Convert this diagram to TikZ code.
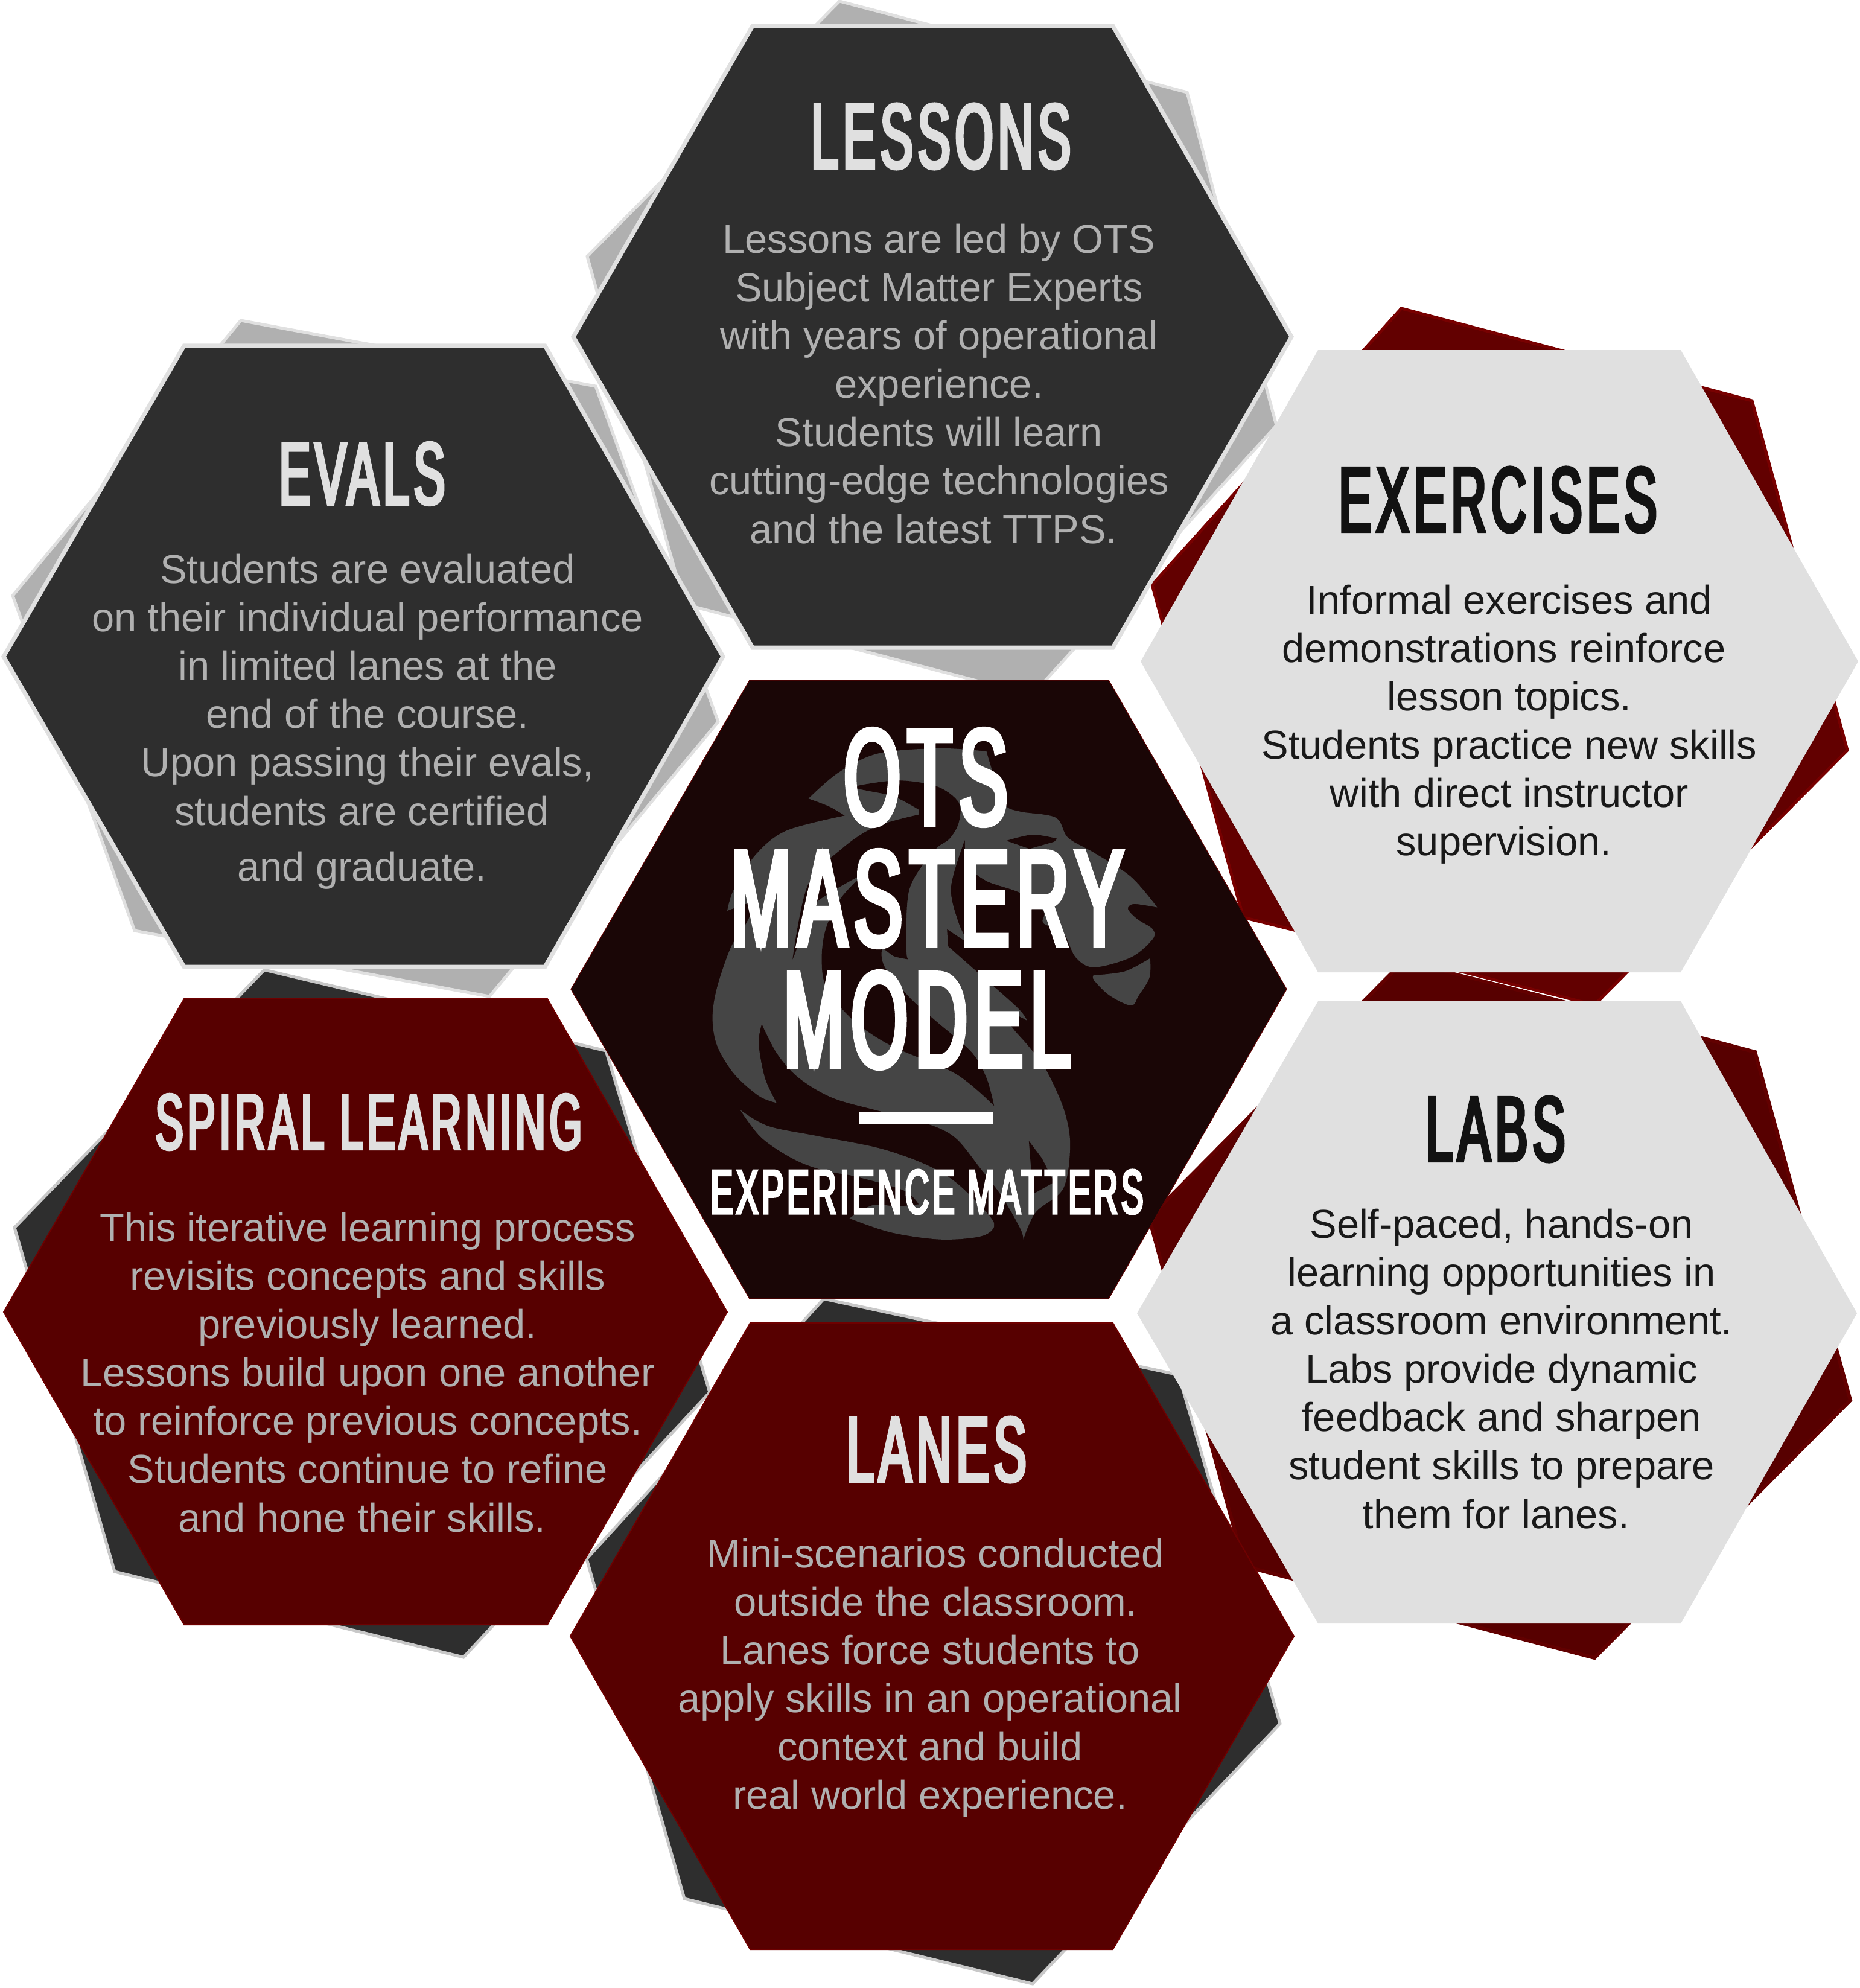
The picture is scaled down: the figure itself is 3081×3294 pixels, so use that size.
\documentclass[tikz,border=0pt]{standalone}
\usepackage{fontspec}
\setmainfont{Liberation Sans}
\newfontfamily\headfont[FakeStretch=0.535,FakeBold=3.5,LetterSpace=5]{Liberation Sans}
\usetikzlibrary{positioning}
\definecolor{colDark}{HTML}{2E2E2E}
\definecolor{colLight}{HTML}{E0E0E0}
\definecolor{colRed}{HTML}{570000}
\definecolor{colCore}{HTML}{1A0606}
\definecolor{colGray}{HTML}{B0B0B0}
\definecolor{colBack}{HTML}{620000}
\definecolor{colEdge}{HTML}{780000}
\definecolor{colLogo}{HTML}{454545}
\newcommand{\tailSp}{\mbox{\kern5.3pt}}
\tikzstyle{styDark}=[fill=colDark,draw=colLight,line width=0.07cm]
\tikzstyle{styLight}=[fill=colLight]
\tikzstyle{styRed}=[fill=colRed,draw=colEdge!70!colRed,line width=0.02cm]
\tikzstyle{styCore}=[fill=colCore,draw=colEdge!70!colCore,line width=0.012cm]
\tikzstyle{styBackGray}=[fill=colGray,draw=colLight,line width=0.05cm]
\tikzstyle{styBackDark}=[fill=colDark,draw=colGray!70!white,line width=0.05cm]
\tikzstyle{styBackRed}=[fill=colBack,draw=colEdge,line width=0.05cm]
\tikzstyle{styBackLow}=[fill=colRed,draw=colBack,line width=0.06cm]
\tikzstyle{styText}=[inner sep=0,align=center,font=\fontsize{19}{22.76}\selectfont]
\tikzstyle{styGrayText}=[styText,text=colGray]
\tikzstyle{styBlackText}=[styText,text=black!90]
\tikzstyle{styHead}=[inner sep=0,font=\headfont\fontsize{43.3}{50}\selectfont]
\tikzstyle{styCoreHead}=[styHead,text=white,font=\headfont\fontsize{64.4}{72}\selectfont]
\begin{document}
\begin{tikzpicture}[x=0.01cm,y=-0.01cm]
\useasboundingbox (0,0) rectangle (3081,3294);

% back hexagons
\draw[styBackLow] (2327,1591) -- (2908,1743) -- (3066,2320) -- (2642,2747) -- (2062,2595) -- (1904,2018) -- cycle;
\draw[styBackRed] (2322,511) -- (2903,664) -- (3061,1243) -- (2642,1665) -- (2060,1520) -- (1909,969) -- cycle;
\draw[white,line width=0.012cm] (2411,1610.5) -- (2592,1655.5);
\draw[styBackDark] (1365,2152) -- (1953,2278) -- (2121,2856) -- (1711,3287) -- (1134,3146) -- (972,2583) -- cycle;
\draw[styBackDark] (438,1607) -- (1004,1741) -- (1176,2307) -- (768,2746) -- (190,2604) -- (24,2034) -- cycle;
\draw[styBackGray] (1391,2) -- (1967,153) -- (2115,705) -- (1710,1152) -- (1134,1001) -- (973,425) -- cycle;
\draw[styBackGray] (399,531) -- (987,640) -- (1190,1196) -- (811,1651) -- (223,1542) -- (21,987) -- cycle;

% front hexagons
\draw[styDark] (950,558) -- (1247,43) -- (1844,43) -- (2140,558) -- (1844,1073) -- (1247,1073) -- cycle;
\draw[styDark] (6,1088) -- (305,573) -- (903,573) -- (1198,1088) -- (903,1602) -- (305,1602) -- cycle;
\fill[styLight] (1890,1096) -- (2184,580) -- (2785,580) -- (3079,1096) -- (2785,1611) -- (2184,1611) -- cycle;
\fill[styLight] (1884,2176) -- (2184,1659) -- (2785,1659) -- (3077,2176) -- (2785,2690) -- (2184,2690) -- cycle;
\draw[styRed] (945,2711) -- (1243,2192) -- (1844,2192) -- (2144,2711) -- (1844,3230) -- (1243,3230) -- cycle;
\draw[styRed] (6,2174) -- (305,1655) -- (907,1655) -- (1205,2174) -- (907,2692) -- (305,2692) -- cycle;
\draw[styCore] (946,1639) -- (1242,1127) -- (1837,1127) -- (2132,1639) -- (1837,2152) -- (1242,2152) -- cycle;

% logo
\begin{scope}[shift={(1150,1220)},x=0.0051cm,y=-0.00333cm,tension=.55]
\fill[colLogo] plot[smooth] coordinates {(372,310) (470,180) (600,85) (800,60) (950,75)}
  -- plot[smooth] coordinates {(950,75) (975,200) (1010,340) (1060,375) (1175,405) (1215,505) (1300,580) (1420,700) (1505,852)}
  -- plot[smooth] coordinates {(1505,852) (1430,835) (1410,860) (1440,910) (1490,960) (1490,1010) (1420,1100) (1300,1150) (1240,1100) (1200,980) (1135,930) (1135,870) (1060,780) (950,720) (890,640) (880,515)}
  -- plot[smooth] coordinates {(880,515) (835,750) (860,930) (895,1035)}
  -- (822,960)
  -- plot[smooth] coordinates {(825,1045) (910,1160) (1050,1350) (1082,1415)}
  -- plot[smooth] coordinates {(1082,1415) (1030,1380) (1030,1440) (1085,1540) (1140,1650) (1200,1850) (1222,2030) (1200,2250) (1110,2370) (1070,2505)}
  -- plot[smooth] coordinates {(1070,2505) (1060,2450) (1000,2290) (930,2150) (850,2000) (760,1930) (600,1865) (450,1800) (340,1700) (270,1580) (220,1432)}
  -- plot[smooth] coordinates {(220,1432) (210,1530) (230,1700) (268,1825)}
  -- plot[smooth] coordinates {(268,1825) (210,1790) (130,1680) (75,1540) (60,1400) (75,1250) (120,1050) (170,930) (205,815)}
  -- (108,868)
  -- plot[smooth] coordinates {(108,868) (130,760) (200,590) (300,470) (490,395)}
  -- plot[smooth] coordinates {(490,395) (440,350) (372,310)} -- cycle;
\fill[colCore] plot[smooth] coordinates {(510,255) (560,238) (670,220) (790,250) (860,330) (860,430) (830,510) (780,570) (700,760) (690,1050) (695,1110)}
  -- plot[smooth] coordinates {(695,1110) (650,1095) (612,1060) (620,1150) (700,1300) (780,1410) (900,1570) (950,1700) (975,1840)}
  -- plot[smooth] coordinates {(975,1840) (850,1680) (640,1540) (515,1410) (430,1250) (415,1100) (430,950) (480,800) (555,680)}
  -- plot[smooth] coordinates {(555,680) (430,790) (365,880) (335,1050) (320,1110)}
  -- plot[smooth] coordinates {(320,1110) (370,740) (480,560) (590,450) (730,390)}
  -- plot[smooth] coordinates {(730,365) (650,300) (560,270) (510,255)} -- cycle;
\fill[colCore] plot[smooth] coordinates {(1015,520) (1100,490) (1180,510)} -- (1170,525) -- (1090,560) -- cycle;
\fill[colCore] (1088,2015) -- (1130,2100) -- (1170,2220) -- (1100,2280) -- (1095,2150) -- cycle;
% jaw and lower lobe
\fill[colLogo] plot[smooth] coordinates {(1298,1190) (1400,1170) (1482,1105)}
  -- plot[smooth] coordinates {(1482,1105) (1480,1200) (1445,1290) (1420,1340) (1350,1290) (1300,1215) (1298,1190)} -- cycle;
\fill[colLogo] plot[smooth] coordinates {(150,1860) (240,1940) (400,1990) (600,2050) (750,2130) (850,2220) (950,2370) (975,2440) (930,2490) (800,2505) (640,2470) (505,2400)}
  -- plot[smooth] coordinates {(505,2400) (580,2335) (660,2340) (730,2330)}
  -- plot[smooth] coordinates {(730,2330) (680,2260) (520,2190) (430,2165) (330,2110) (220,2000) (150,1860)} -- cycle;
\end{scope}

% headings
\node[styHead,text=colLight] (headLessons) at (1559,226) {LESSONS};
\node[styHead,text=colLight,font=\headfont\fontsize{41.5}{50}\selectfont] (headEvals) at (600,785) {EVALS};
\node[styHead,text=black!93] (headExercises) at (2482,828) {EXERCISES};
\node[styHead,text=black!93] (headLabs) at (2478,1871) {LABS};
\node[styHead,text=colLight] (headLanes) at (1552,2402) {LANES};
\node[styHead,text=colLight,font=\headfont\fontsize{37}{50}\selectfont] (headSpiral) at (611,1859) {SPIRAL LEARNING};

% center
\node[styCoreHead] (coreOts) at (1534,1288) {OTS};
\node[styCoreHead] (coreMastery) at (1536,1489) {MASTERY};
\node[styCoreHead] (coreModel) at (1536,1690) {MODEL};
\fill[white] (1424,1842) rectangle (1646,1863);
\node[styHead,text=white,font=\headfont\fontsize{29.5}{36}\selectfont] (coreMotto) at (1536,1975) {EXPERIENCE MATTERS};

% body texts
\node[styGrayText] (textLessons) at (1556,636) {Lessons are led by OTS\\Subject Matter Experts\\with years of operational\\experience.\\Students will learn\\cutting-edge technologies\\and the latest TTPS.\tailSp};
\node[styGrayText] (textEvals) at (609,1196) {Students are evaluated\\on their individual performance\\in limited lanes at the\\end of the course.\\Upon passing their evals,\\students are certified\tailSp\\[3.6pt]and graduate.\tailSp};
\node[styBlackText] (textExercises) at (2501,1200) {Informal exercises and\\demonstrations reinforce\tailSp\\lesson topics.\\Students practice new skills\\with direct instructor\\supervision.\tailSp};
\node[styBlackText] (textLabs) at (2488,2268) {Self-paced, hands-on\\learning opportunities in\\a classroom environment.\\Labs provide dynamic\\feedback and sharpen\\student skills to prepare\\them for lanes.\tailSp};
\node[styGrayText] (textLanes) at (1541,2780) {\tailSp Mini-scenarios conducted\\\tailSp outside the classroom.\\Lanes force students to\\apply skills in an operational\\context and build\\real world experience.};
\node[styGrayText] (textSpiral) at (609,2274) {This iterative learning process\\revisits concepts and skills\\previously learned.\\Lessons build upon one another\\to reinforce previous concepts.\\Students continue to refine\\and hone their skills.\tailSp};
\end{tikzpicture}
\end{document}
